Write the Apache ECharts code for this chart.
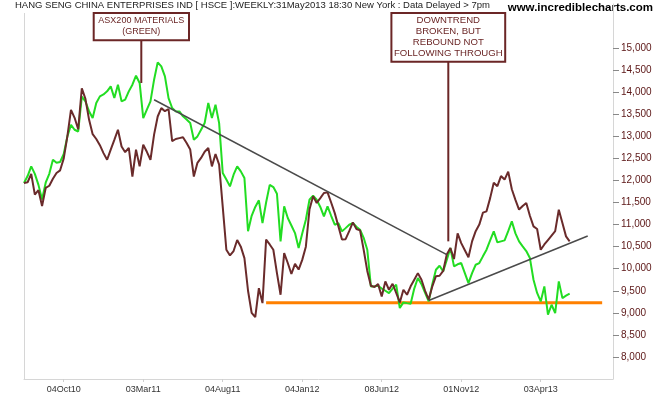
<!DOCTYPE html>
<html><head><meta charset="utf-8">
<script src="https://cdn.jsdelivr.net/npm/echarts@6/dist/echarts.min.js"></script>
<style>html,body{margin:0;padding:0;background:#fff}#c{width:660px;height:400px}</style>
</head><body><div id="c"></div>
<script>
// HSCE weekly close (brown), index 0 = mid-Jul 2010
const hsce = [
11942,11960,12150,11680,11780,11420,11830,11880,12040,12170,
12230,12500,13000,13600,13420,13160,14090,13850,13380,13050,
12940,12800,12620,12470,12700,12920,13150,12770,12640,12740,
12090,12700,12320,12810,12650,12470,13040,13450,13640,13570,
13620,12890,12940,12960,12980,12850,12700,12090,12400,12510,
12650,12735,12320,12600,12360,11400,10430,10300,10400,10650,
10500,10240,9500,9000,8900,9560,9220,10660,10550,10430,
9900,9410,10355,10130,9880,10110,9980,10200,10500,11340,
11640,11490,11600,11715,11730,11500,11260,10960,10660,10670,
10850,11050,10900,10870,10430,9950,9614,9584,9650,9372,
9712,9523,9659,9450,9236,9523,9410,9600,9750,9900,
9750,9500,9300,9600,9830,9840,9950,10320,10470,10220,
10800,10580,10420,10260,10620,10850,11000,11270,11300,11600,
11950,11870,12100,12020,12200,11800,11560,11340,11420,11490,
11200,10960,10900,10430,10550,10650,10750,10850,11337,11035,
10733,10619
];
// ASX200 Materials, rescaled (green)
const asx = [
11942,12100,12320,12150,11900,11570,11950,12150,12470,12400,
12420,12600,13000,13260,13150,13110,13900,13790,13570,13415,
13755,13906,13950,14020,14133,13868,14171,13793,13831,14020,
14171,14375,14210,13415,13604,13793,14284,14677,14586,14360,
13868,13642,13566,13566,13453,13380,13302,12924,12999,13150,
13302,13755,13415,13717,13300,12170,12020,11866,12131,12320,
12206,12055,10850,11200,11400,11550,11035,11500,11900,11850,
11700,10620,11413,11148,10980,10808,10468,10800,11110,11564,
11654,11564,11400,11186,11413,11200,10997,11035,10846,10920,
10997,11035,10950,10884,10700,10430,9599,9600,9614,9550,
9500,9448,9550,9637,9108,9236,9220,9206,9550,9790,
9650,9450,9260,9650,9977,10067,9939,10200,10468,10053,
10100,10128,9900,9675,9900,10090,10128,10280,10430,10640,
10846,10596,10620,10642,10850,11073,10800,10619,10506,10400,
10241,9750,9450,9259,9599,8957,9183,8994,9712,9334,
9388,9433
];
const weekCount = 164;
const tickIndex = [11, 33, 55, 77, 99, 121, 143];
const tickLabels = ['04Oct10', '03Mar11', '04Aug11', '04Jan12', '08Jun12', '01Nov12', '03Apr13'];
const yTicks = [8000, 8500, 9000, 9500, 10000, 10500, 11000, 11500, 12000, 12500, 13000, 13500, 14000, 14500, 15000];
const downtrend = [[36, 13830], [117, 10320]];
const uptrend = [[112, 9280], [156, 10740]];
const support = [[67, 9230], [160, 9230]];
const titleText = 'HANG SENG CHINA ENTERPRISES IND [ HSCE ]:WEEKLY:31May2013 18:30 New York : Data Delayed > 7pm';
const siteText = 'www.incrediblecharts.com';
const note1 = ['ASX200 MATERIALS', '(GREEN)'];
const note2 = ['DOWNTREND', 'BROKEN, BUT', 'REBOUND NOT', 'FOLLOWING THROUGH'];
const note1Target = 14210;
const note2Target = 10620;

const cats = Array.from({length: weekCount}, (_, i) => String(i));
const chart = echarts.init(document.getElementById('c'), null, {renderer: 'canvas'});
const FONT = '"Liberation Sans", Arial, sans-serif';
const isTick = (i) => tickIndex.indexOf(i) >= 0;

chart.setOption({
  animation: false,
  backgroundColor: '#fff',
  grid: {left: 24, right: 47, top: 4, bottom: 21, containLabel: false},
  xAxis: {
    type: 'category', data: cats, boundaryGap: false,
    axisLine: {lineStyle: {color: '#d6d6d6', width: 1}},
    axisTick: {interval: (i) => isTick(i), length: 3, lineStyle: {color: '#cfcfcf'}},
    axisLabel: {interval: (i) => isTick(i), formatter: (v) => tickLabels[tickIndex.indexOf(+v)] || '',
      color: '#333', fontSize: 9, fontFamily: FONT, margin: 6},
    splitLine: {show: false}
  },
  yAxis: {
    type: 'value', position: 'right', min: 7500, max: 16000,
    axisLine: {show: true, lineStyle: {color: '#d6d6d6', width: 1}},
    axisTick: {show: true, customValues: yTicks, length: 6, lineStyle: {color: '#888'}},
    axisLabel: {customValues: yTicks, formatter: (v) => Number(v).toLocaleString('en-US'),
      color: '#5b1515', fontSize: 10, fontFamily: FONT, margin: 8},
    splitLine: {show: false}
  },
  series: [
    {type: 'line', data: support, symbol: 'none', lineStyle: {color: '#ff8000', width: 3}, z: 1},
    {type: 'line', data: asx, symbol: 'none', lineStyle: {color: '#22dd22', width: 2}, z: 2},
    {type: 'line', data: hsce, symbol: 'none', lineStyle: {color: '#6a2b2b', width: 2}, z: 3},
    {type: 'line', data: downtrend, symbol: 'none', lineStyle: {color: '#4a4a4a', width: 1.5}, z: 4},
    {type: 'line', data: uptrend, symbol: 'none', lineStyle: {color: '#4a4a4a', width: 1.5}, z: 4}
  ]
});

const y1 = chart.convertToPixel({yAxisIndex: 0}, note1Target);
const y2 = chart.convertToPixel({yAxisIndex: 0}, note2Target);
const boxColor = '#6b2626';
const g = [];
g.push({type: 'line', shape: {x1: 24.5, y1: 13, x2: 24.5, y2: 379}, style: {stroke: '#d6d6d6', lineWidth: 1}, z: 0});
g.push({type: 'text', x: 15, y: 5, style: {text: titleText, font: '9.5px ' + FONT, fill: '#222', textVerticalAlign: 'middle'}});
g.push({type: 'text', x: 653, y: 8, style: {text: siteText, font: 'bold 11.5px ' + FONT, fill: '#000', textAlign: 'right', textVerticalAlign: 'middle'}});
// note 1
g.push({type: 'line', shape: {x1: 141.3, y1: 40, x2: 141.3, y2: y1}, style: {stroke: boxColor, lineWidth: 2}, z: 10});
g.push({type: 'rect', shape: {x: 93.7, y: 13, width: 95.3, height: 27.3}, style: {fill: '#fff', stroke: boxColor, lineWidth: 2}, z: 10});
note1.forEach((t, k) => g.push({type: 'text', x: 141.3, y: 20.7 + 11 * k, style: {text: t, font: '9px ' + FONT, fill: boxColor, textAlign: 'center', textVerticalAlign: 'middle'}, z: 11}));
// note 2
g.push({type: 'line', shape: {x1: 448.3, y1: 61, x2: 448.3, y2: y2}, style: {stroke: boxColor, lineWidth: 2}, z: 10});
g.push({type: 'rect', shape: {x: 391.4, y: 13, width: 113.8, height: 48.7}, style: {fill: '#fff', stroke: boxColor, lineWidth: 2}, z: 10});
note2.forEach((t, k) => g.push({type: 'text', x: 448.3, y: 20.7 + 11 * k, style: {text: t, font: '9.6px ' + FONT, fill: boxColor, textAlign: 'center', textVerticalAlign: 'middle'}, z: 11}));
chart.setOption({graphic: g});
</script>
</body></html>
